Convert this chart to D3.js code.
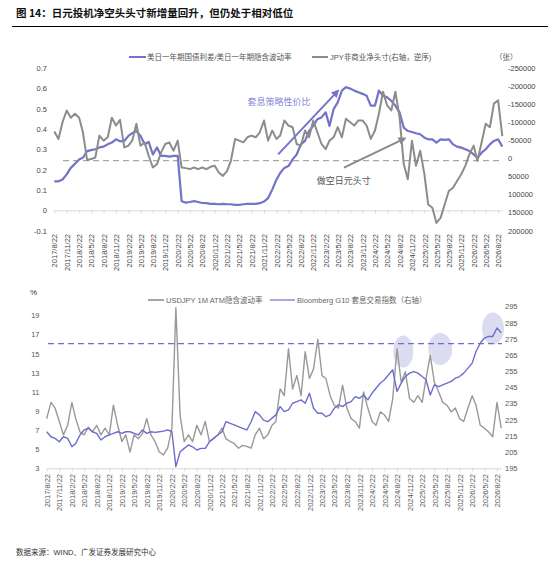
<!DOCTYPE html>
<html lang="zh">
<head>
<meta charset="UTF-8">
<title>图14 日元投机净空头头寸</title>
<script src="https://d3js.org/d3.v7.min.js"></script>
<style>
  body { margin: 0; background: #fff; }
  svg { font-family: "Liberation Sans", "Noto Sans CJK SC", sans-serif; }
</style>
</head>
<body>
<svg id="chart" width="558" height="570"></svg>
<script>
// ---- data (monthly, starting 2017/8/22) ----
const startDate = new Date(2017, 7, 22);

// 美日一年期国债利差/美日一年期隐含波动率 (left axis)
const spreadRatio = [
  0.143, 0.143, 0.152, 0.177, 0.209, 0.229, 0.251, 0.259, 0.292, 0.297,
  0.301, 0.310, 0.314, 0.326, 0.334, 0.350, 0.340, 0.342, 0.367, 0.380,
  0.391, 0.367, 0.326, 0.337, 0.275, 0.310, 0.268, 0.268, 0.265, 0.268,
  0.268, 0.045, 0.038, 0.041, 0.045, 0.041, 0.036, 0.035, 0.032, 0.032,
  0.030, 0.032, 0.030, 0.030, 0.027, 0.027, 0.030, 0.032, 0.032, 0.032,
  0.035, 0.043, 0.060, 0.102, 0.151, 0.184, 0.209, 0.218, 0.251, 0.275,
  0.325, 0.342, 0.391, 0.416, 0.449, 0.458, 0.483, 0.416, 0.499, 0.532,
  0.590, 0.607, 0.600, 0.590, 0.582, 0.574, 0.565, 0.516, 0.516, 0.590,
  0.565, 0.557, 0.540, 0.516, 0.483, 0.408, 0.391, 0.386, 0.380, 0.375,
  0.358, 0.350, 0.350, 0.334, 0.350, 0.347, 0.350, 0.325, 0.314, 0.309,
  0.301, 0.292, 0.276, 0.259, 0.284, 0.301, 0.325, 0.342, 0.350, 0.314
];

// JPY非商业净头寸 (right axis, reversed)
const jpyPosition = [
  -74600, -54000, -100600, -133000, -112800, -124000, -112800, -72600, 4500, 1700,
  -2800, -63400, -49400, -58700, -112800, -91300, -107200, -30700, -35500, -49400,
  -96100, -35500, -44700, -7500, 25100, 15600, -16800, -40200, -44700, -21500,
  -49400, 25100, 26800, 29600, 25100, 29600, 25100, 29700, 23200, 20400,
  39100, 48300, 34400, 6400, -54200, -49400, -44700, -58700, -63400, -58700,
  -72600, -105300, -49400, -77400, -54200, -63400, -105300, -91300, -86600, -40200,
  -35500, -77400, -58700, -105300, -72600, -40200, -26200, -49400, -58700, -86600,
  -58700, -110000, -100600, -91300, -105300, -105300, -91300, -54200, -77400, -124000,
  -185000, -147200, -133200, -185000, -114500, 15600, 57500, -49400, 20400, -21500,
  43600, 127400, 136900, 178800, 164800, 127400, 90200, 81000, 62300, 43600,
  20400, -12300, -35500, 6400, -44700, -96100, -86600, -152000, -161200, -62000
];

// USDJPY 1M ATM隐含波动率 (left axis, %)
const usdjpyVol = [
  8.2, 9.9, 9.3, 7.9, 6.5, 7.5, 9.9, 8.2, 6.8, 6.5,
  7.3, 6.8, 7.5, 6.5, 7.2, 6.5, 9.6, 7.5, 5.8, 6.5,
  4.7, 6.5, 6.1, 6.6, 8.2, 6.5, 5.8, 4.7, 4.4, 5.1,
  7.2, 19.8, 8.5, 5.8, 6.5, 5.8, 7.5, 6.5, 7.9, 5.8,
  6.1, 6.5, 7.2, 6.1, 5.8, 5.6, 5.1, 5.4, 5.3, 5.1,
  6.5, 7.2, 6.1, 6.5, 7.5, 7.9, 11.3, 10.6, 15.5, 11.3,
  12.7, 10.6, 15.2, 12.4, 13.4, 16.5, 12.7, 12.4, 10.6, 9.6,
  9.3, 11.7, 9.3, 8.2, 7.9, 7.2, 11.0, 9.3, 7.9, 7.5,
  8.9, 8.6, 7.9, 10.3, 15.5, 12.0, 13.1, 10.3, 9.9, 10.6,
  9.9, 12.4, 14.8, 12.0, 11.0, 9.9, 9.6, 8.9, 9.3, 8.2,
  7.9, 9.3, 10.6, 9.6, 7.5, 7.2, 6.8, 6.3, 9.9, 7.2
];

// Bloomberg G10 套息交易指数 (right axis)
const carryIndex = [
  217.6, 214.5, 213.5, 211.4, 214.5, 213.5, 208.3, 210.4, 215.6, 218.7,
  219.7, 217.6, 216.6, 212.5, 214.5, 215.6, 216.6, 217.6, 216.6, 217.6,
  217.6, 216.6, 215.6, 218.7, 216.6, 217.6, 217.2, 217.6, 218.0, 218.7,
  217.6, 196.0, 205.2, 207.3, 209.4, 208.3, 206.3, 207.3, 207.3, 211.4,
  213.5, 215.6, 217.6, 223.8, 222.8, 221.8, 220.7, 219.7, 218.7, 223.8,
  230.0, 228.0, 224.8, 223.8, 226.0, 228.0, 233.1, 230.0, 231.1, 235.2,
  236.2, 237.3, 235.2, 241.4, 232.1, 229.0, 229.0, 226.9, 228.0, 232.1,
  234.2, 233.1, 235.2, 236.2, 239.3, 238.3, 240.3, 237.3, 241.4, 244.5,
  247.6, 249.7, 252.8, 255.9, 242.5, 247.6, 251.7, 253.8, 254.8, 253.8,
  251.7, 249.7, 240.3, 246.6, 245.5, 246.6, 247.6, 248.7, 250.7, 251.7,
  253.8, 256.9, 260.0, 267.2, 272.4, 275.5, 276.5, 276.5, 281.7, 278.7
];

const topLeftTicks = [-0.1, 0, 0.1, 0.2, 0.3, 0.4, 0.5, 0.6, 0.7];
const topRightTicks = [-250000, -200000, -150000, -100000, -50000, 0, 50000, 100000, 150000, 200000];
const botLeftTicks = [3, 5, 7, 9, 11, 13, 15, 17, 19];
const botRightTicks = [195, 205, 215, 225, 235, 245, 255, 265, 275, 285, 295];
const spreadRef = 0.245;
const carryRef = 272;

// ---- helpers ----
const monthAt = i => d3.timeMonth.offset(startDate, i);
const tickDates = d3.range(0, 37).map(i => monthAt(i * 3));
const fmtDate = d3.timeFormat("%Y/%-m/%-d");
const lastIdx = spreadRatio.length - 1;

const svg = d3.select("#chart");

// title
svg.append("text")
  .attr("x", 16).attr("y", 17)
  .attr("font-size", 10.5).attr("font-weight", 700).attr("fill", "#111")
  .attr("font-family", "'Noto Sans CJK SC', sans-serif")
  .text("图 14：日元投机净空头头寸新增量回升，但仍处于相对低位");
svg.append("line")
  .attr("x1", 12).attr("x2", 548).attr("y1", 26.5).attr("y2", 26.5)
  .attr("stroke", "#000").attr("stroke-width", 1);

// arrow markers
const defs = svg.append("defs");
[["arrBlue", "#7373cc"], ["arrGray", "#8a8a8a"]].forEach(([id, c]) => {
  defs.append("marker")
    .attr("id", id).attr("viewBox", "0 0 10 10")
    .attr("refX", 8).attr("refY", 5)
    .attr("markerWidth", 4).attr("markerHeight", 4)
    .attr("orient", "auto")
    .append("path").attr("d", "M0,0L10,5L0,10z").attr("fill", c);
});

// ================= top chart =================
const tx = d3.scaleTime().domain([monthAt(0), monthAt(lastIdx)]).range([54.3, 502.3]);
const tyL = d3.scaleLinear().domain([-0.1, 0.7]).range([230.6, 68.3]);
const tyR = d3.scaleLinear().domain([200000, -250000]).range([230.6, 68.3]);

const topG = svg.append("g");

// x axis at 0
const topAxis = topG.append("g")
  .attr("transform", `translate(0,${tyL(0)})`)
  .call(d3.axisBottom(tx).tickValues(tickDates).tickFormat(fmtDate).tickSizeInner(3).tickSizeOuter(0));
topAxis.select(".domain").attr("stroke", "#d9d9d9");
topAxis.selectAll(".tick line").attr("stroke", "#d9d9d9");
topAxis.selectAll("text")
  .attr("transform", "rotate(-90)")
  .attr("text-anchor", "end")
  .attr("x", -(234 - tyL(0))).attr("y", 0).attr("dy", "0.35em")
  .attr("font-size", 7.5).attr("fill", "#444")
  .attr("font-family", "'Liberation Sans', sans-serif");

// left axis
const tl = topG.append("g").attr("transform", "translate(47,0)")
  .call(d3.axisLeft(tyL).tickValues(topLeftTicks).tickFormat(d => String(d)).tickSize(0).tickPadding(0));
tl.select(".domain").remove();
tl.selectAll("text").attr("font-size", 7.5).attr("fill", "#444").attr("font-family", "'Liberation Sans', sans-serif");

// right axis
const tr = topG.append("g").attr("transform", "translate(508,0)")
  .call(d3.axisRight(tyR).tickValues(topRightTicks).tickFormat(d => String(d)).tickSize(0).tickPadding(0));
tr.select(".domain").remove();
tr.selectAll("text").attr("font-size", 7.5).attr("fill", "#444").attr("font-family", "'Liberation Sans', sans-serif");

// reference dashed line
topG.append("line")
  .attr("x1", 63).attr("x2", 502).attr("y1", tyL(spreadRef)).attr("y2", tyL(spreadRef))
  .attr("stroke", "#a6a6a6").attr("stroke-width", 1.3).attr("stroke-dasharray", "6,4");

topG.append("path")
  .datum(spreadRatio)
  .attr("fill", "none").attr("stroke", "#7373c8").attr("stroke-width", 2.2)
  .attr("stroke-linejoin", "round")
  .attr("d", d3.line().x((d, i) => tx(monthAt(i))).y(d => tyL(d)));

topG.append("path")
  .datum(jpyPosition)
  .attr("fill", "none").attr("stroke", "#8c8c8c").attr("stroke-width", 2)
  .attr("stroke-linejoin", "round")
  .attr("d", d3.line().x((d, i) => tx(monthAt(i))).y(d => tyR(d)));

// annotations
topG.append("line")
  .attr("x1", tx(new Date(2022, 2, 7))).attr("y1", tyL(0.276))
  .attr("x2", tx(new Date(2023, 4, 25))).attr("y2", tyL(0.59))
  .attr("stroke", "#7373cc").attr("stroke-width", 2).attr("marker-end", "url(#arrBlue)");
topG.append("text")
  .attr("x", tx(new Date(2022, 2, 13))).attr("y", tyL(0.532))
  .attr("text-anchor", "middle").attr("dominant-baseline", "middle")
  .attr("font-size", 9).attr("fill", "#8585d6")
  .text("套息策略性价比");

topG.append("line")
  .attr("x1", tx(new Date(2023, 6, 7))).attr("y1", tyL(0.21))
  .attr("x2", tx(new Date(2024, 9, 1))).attr("y2", tyL(0.355))
  .attr("stroke", "#8a8a8a").attr("stroke-width", 2).attr("marker-end", "url(#arrGray)");
topG.append("text")
  .attr("x", tx(new Date(2023, 6, 5))).attr("y", tyL(0.141))
  .attr("text-anchor", "middle").attr("dominant-baseline", "middle")
  .attr("font-size", 9).attr("fill", "#555")
  .text("做空日元头寸");

// legend
const lg = topG.append("g").attr("font-size", 7.5).attr("fill", "#555");
lg.append("line").attr("x1", 129).attr("x2", 146).attr("y1", 57).attr("y2", 57)
  .attr("stroke", "#7373c8").attr("stroke-width", 2);
lg.append("text").attr("x", 147).attr("y", 59.7).text("美日一年期国债利差/美日一年期隐含波动率");
lg.append("line").attr("x1", 312).attr("x2", 328).attr("y1", 57).attr("y2", 57)
  .attr("stroke", "#8c8c8c").attr("stroke-width", 2);
lg.append("text").attr("x", 330).attr("y", 59.7).text("JPY非商业净头寸(右轴，逆序)");
lg.append("text").attr("x", 495).attr("y", 59.7).text("（张）");

// ================= bottom chart =================
const bx = d3.scaleTime().domain([monthAt(0), monthAt(lastIdx)]).range([46.7, 46.7 + lastIdx * 4.17]);
const byL = d3.scaleLinear().domain([3, 20]).range([468.3, 305.8]);
const byR = d3.scaleLinear().domain([195, 295]).range([468.3, 306.5]);

const botG = svg.append("g");

const botAxis = botG.append("g")
  .attr("transform", `translate(0,${byL(3)})`)
  .call(d3.axisBottom(bx).tickValues(tickDates).tickFormat(fmtDate).tickSizeInner(3).tickSizeOuter(0));
botAxis.select(".domain").attr("stroke", "#d9d9d9");
botAxis.selectAll(".tick line").attr("stroke", "#d9d9d9");
botAxis.selectAll("text")
  .attr("transform", "rotate(-90)")
  .attr("text-anchor", "end")
  .attr("x", -(474 - byL(3))).attr("y", 0).attr("dy", "0.35em")
  .attr("font-size", 7.5).attr("fill", "#555")
  .attr("font-family", "'Liberation Sans', sans-serif");

const bl = botG.append("g").attr("transform", "translate(39.5,0)")
  .call(d3.axisLeft(byL).tickValues(botLeftTicks).tickFormat(d => String(d)).tickSize(0).tickPadding(0));
bl.select(".domain").remove();
bl.selectAll("text").attr("font-size", 7.5).attr("fill", "#555").attr("font-family", "'Liberation Sans', sans-serif");

const br = botG.append("g").attr("transform", "translate(505,0)")
  .call(d3.axisRight(byR).tickValues(botRightTicks).tickFormat(d => String(d)).tickSize(0).tickPadding(0));
br.select(".domain").remove();
br.selectAll("text").attr("font-size", 7.5).attr("fill", "#555").attr("font-family", "'Liberation Sans', sans-serif");

botG.append("text").attr("x", 30).attr("y", 295).attr("font-size", 8).attr("fill", "#333").text("%");

// highlight ellipses
const highlights = [
  { date: new Date(2024, 9, 7), value: 267.2, rx: 10, ry: 16 },
  { date: new Date(2025, 6, 4), value: 268.7, rx: 12, ry: 16 },
  { date: new Date(2026, 6, 24), value: 281.4, rx: 11, ry: 16 }
];
botG.selectAll("ellipse").data(highlights).join("ellipse")
  .attr("cx", d => bx(d.date)).attr("cy", d => byR(d.value))
  .attr("rx", d => d.rx).attr("ry", d => d.ry)
  .attr("fill", "#dcdcf1");

botG.append("line")
  .attr("x1", 48).attr("x2", 502).attr("y1", byR(carryRef)).attr("y2", byR(carryRef))
  .attr("stroke", "#6e6ecb").attr("stroke-width", 1.3).attr("stroke-dasharray", "6,4");

botG.append("path")
  .datum(usdjpyVol)
  .attr("fill", "none").attr("stroke", "#999").attr("stroke-width", 1.4)
  .attr("stroke-linejoin", "round")
  .attr("d", d3.line().x((d, i) => bx(monthAt(i))).y(d => byL(d)));

botG.append("path")
  .datum(carryIndex)
  .attr("fill", "none").attr("stroke", "#6d6dcb").attr("stroke-width", 1.4)
  .attr("stroke-linejoin", "round")
  .attr("d", d3.line().x((d, i) => bx(monthAt(i))).y(d => byR(d)));

const lg2 = botG.append("g").attr("font-size", 7.5).attr("fill", "#666");
lg2.append("line").attr("x1", 148).attr("x2", 164).attr("y1", 300).attr("y2", 300)
  .attr("stroke", "#a6a6a6").attr("stroke-width", 2);
lg2.append("text").attr("x", 166).attr("y", 302.7).text("USDJPY 1M ATM隐含波动率");
lg2.append("line").attr("x1", 270).attr("x2", 295).attr("y1", 300).attr("y2", 300)
  .attr("stroke", "#a9a9e2").attr("stroke-width", 2);
lg2.append("text").attr("x", 297).attr("y", 302.7).text("Bloomberg G10 套息交易指数（右轴）");

// source
svg.append("text")
  .attr("x", 16).attr("y", 555)
  .attr("font-size", 7.5).attr("fill", "#333")
  .text("数据来源：WIND、广发证券发展研究中心");
</script>
</body>
</html>
